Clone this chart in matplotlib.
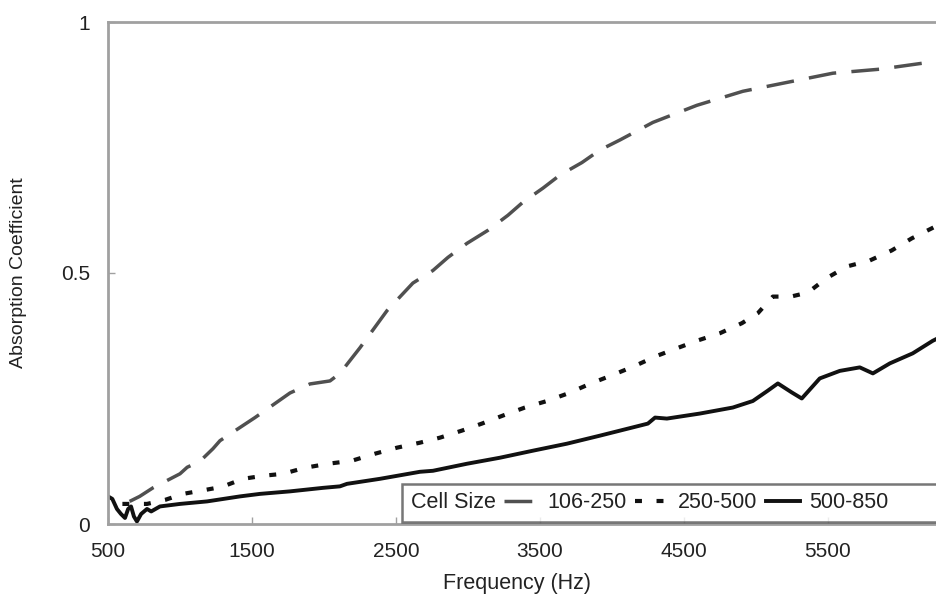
import matplotlib

matplotlib.use("Agg")
import matplotlib.pyplot as plt
from matplotlib.lines import Line2D

plt.rcParams["font.family"] = ["Liberation Sans", "DejaVu Sans"]
plt.rcParams["lines.scale_dashes"] = False

INK = "#222222"
SPINE = "#a0a0a0"

# Cell size 106-250 (long dashes)
freq_small = [650, 720, 812, 1000, 1050, 1139, 1229, 1278, 1521, 1764, 1903, 2042, 2111,
              2250, 2438, 2618, 2757, 2861, 2993, 3139, 3278, 3382, 3521, 3639, 3792,
              3917, 4056, 4285, 4590, 4910, 5222, 5535, 5861, 6160, 6300]
abs_small = [0.045, 0.055, 0.072, 0.100, 0.113, 0.125, 0.150, 0.166, 0.212, 0.261, 0.279,
             0.285, 0.300, 0.351, 0.425, 0.480, 0.505, 0.531, 0.559, 0.585, 0.615, 0.641,
             0.669, 0.695, 0.720, 0.745, 0.765, 0.800, 0.834, 0.862, 0.880, 0.898, 0.906,
             0.918, 0.925]

# Cell size 250-500 (dots)
freq_mid = [600, 771, 896, 1021, 1139, 1292, 1438, 1576, 1715, 1868, 2028, 2194, 2354,
            2507, 2667, 2806, 2958, 3097, 3243, 3396, 3549, 3694, 3854, 4007, 4160, 4313,
            4451, 4590, 4750, 4903, 5014, 5118, 5243, 5361, 5493, 5632, 5792, 5944, 6083,
            6229, 6300]
abs_mid = [0.040, 0.040, 0.048, 0.060, 0.066, 0.074, 0.090, 0.096, 0.100, 0.112, 0.120,
           0.126, 0.140, 0.152, 0.162, 0.172, 0.186, 0.200, 0.216, 0.232, 0.245, 0.260,
           0.280, 0.297, 0.315, 0.335, 0.350, 0.365, 0.380, 0.400, 0.420, 0.453, 0.453,
           0.461, 0.490, 0.513, 0.525, 0.545, 0.569, 0.590, 0.600]

# Cell size 500-850 (solid, measured noise kept)
freq_large = [500, 530, 562, 590, 618, 640, 660, 680, 701, 730, 771, 800, 861, 1000, 1188,
              1417, 1556, 1764, 1993, 2111, 2160, 2389, 2667, 2757, 2993, 3222, 3451, 3688,
              3917, 4056, 4250, 4300, 4382, 4611, 4840, 4979, 5080, 5153, 5250, 5319, 5444,
              5583, 5722, 5813, 5931, 6090, 6229, 6300]
abs_large = [0.055, 0.050, 0.030, 0.020, 0.012, 0.030, 0.035, 0.015, 0.005, 0.020, 0.030,
             0.025, 0.035, 0.040, 0.045, 0.055, 0.060, 0.065, 0.072, 0.075, 0.080, 0.090,
             0.104, 0.106, 0.120, 0.132, 0.146, 0.160, 0.176, 0.186, 0.200, 0.212, 0.210,
             0.220, 0.232, 0.245, 0.265, 0.280, 0.262, 0.250, 0.290, 0.305, 0.312, 0.300,
             0.320, 0.340, 0.365, 0.375]

legend_labels = ["Cell Size", "106-250", "250-500", "500-850"]
x_ticks = [500, 1500, 2500, 3500, 4500, 5500]
y_ticks = [0, 0.5, 1]
y_ticklabels = ["0", "0.5", "1"]

fig = plt.figure(figsize=(9.36, 6.16), dpi=100)
ax = fig.add_axes([108 / 936, 92 / 616, 835 / 936, 502 / 616])

l_small, = ax.plot(freq_small, abs_small, color="#505050", lw=2.5,
                   dashes=(20, 11), dash_capstyle="butt")
l_mid, = ax.plot(freq_mid, abs_mid, color="#111111", lw=3.0,
                 dashes=(5, 10.5), dash_capstyle="butt")
l_large, = ax.plot(freq_large, abs_large, color="#111111", lw=2.8)

ax.set_xlim(500, 6300)
ax.set_ylim(0, 1)
ax.set_xticks(x_ticks)
ax.set_yticks(y_ticks)
ax.set_yticklabels(y_ticklabels)
ax.tick_params(direction="in", length=5, width=1, color=SPINE, labelsize=15,
               labelcolor=INK)
ax.tick_params(axis="x", pad=13)
ax.tick_params(axis="y", pad=13)
for side in ["left", "bottom", "top", "right"]:
    ax.spines[side].set_color(SPINE)
    ax.spines[side].set_linewidth(2)

ax.set_xlabel("Frequency (Hz)", fontsize=15.5, color=INK, va="top")
ax.xaxis.set_label_coords(0.49, -0.098)
ax.set_ylabel("Absorption Coefficient", fontsize=14, color=INK)
ax.yaxis.set_label_coords(-0.097, 0.5)

# legend reads "Cell Size [—] 106-250 [- -] 250-500 [——] 500-850"
blank = Line2D([], [], color="none")
leg = ax.legend([l_small, l_mid, l_large, blank], legend_labels, ncol=4,
                markerfirst=False, loc="lower left", bbox_to_anchor=(0.352, 0.004),
                borderaxespad=0, fontsize=15.5, frameon=True, fancybox=False,
                handlelength=1.6, handletextpad=0.4, columnspacing=0.4,
                borderpad=0.4)
leg.get_frame().set_edgecolor("#555555")
leg.get_frame().set_linewidth(1.8)
for t in leg.get_texts():
    t.set_color(INK)

fig.savefig("out.png", dpi=100)
